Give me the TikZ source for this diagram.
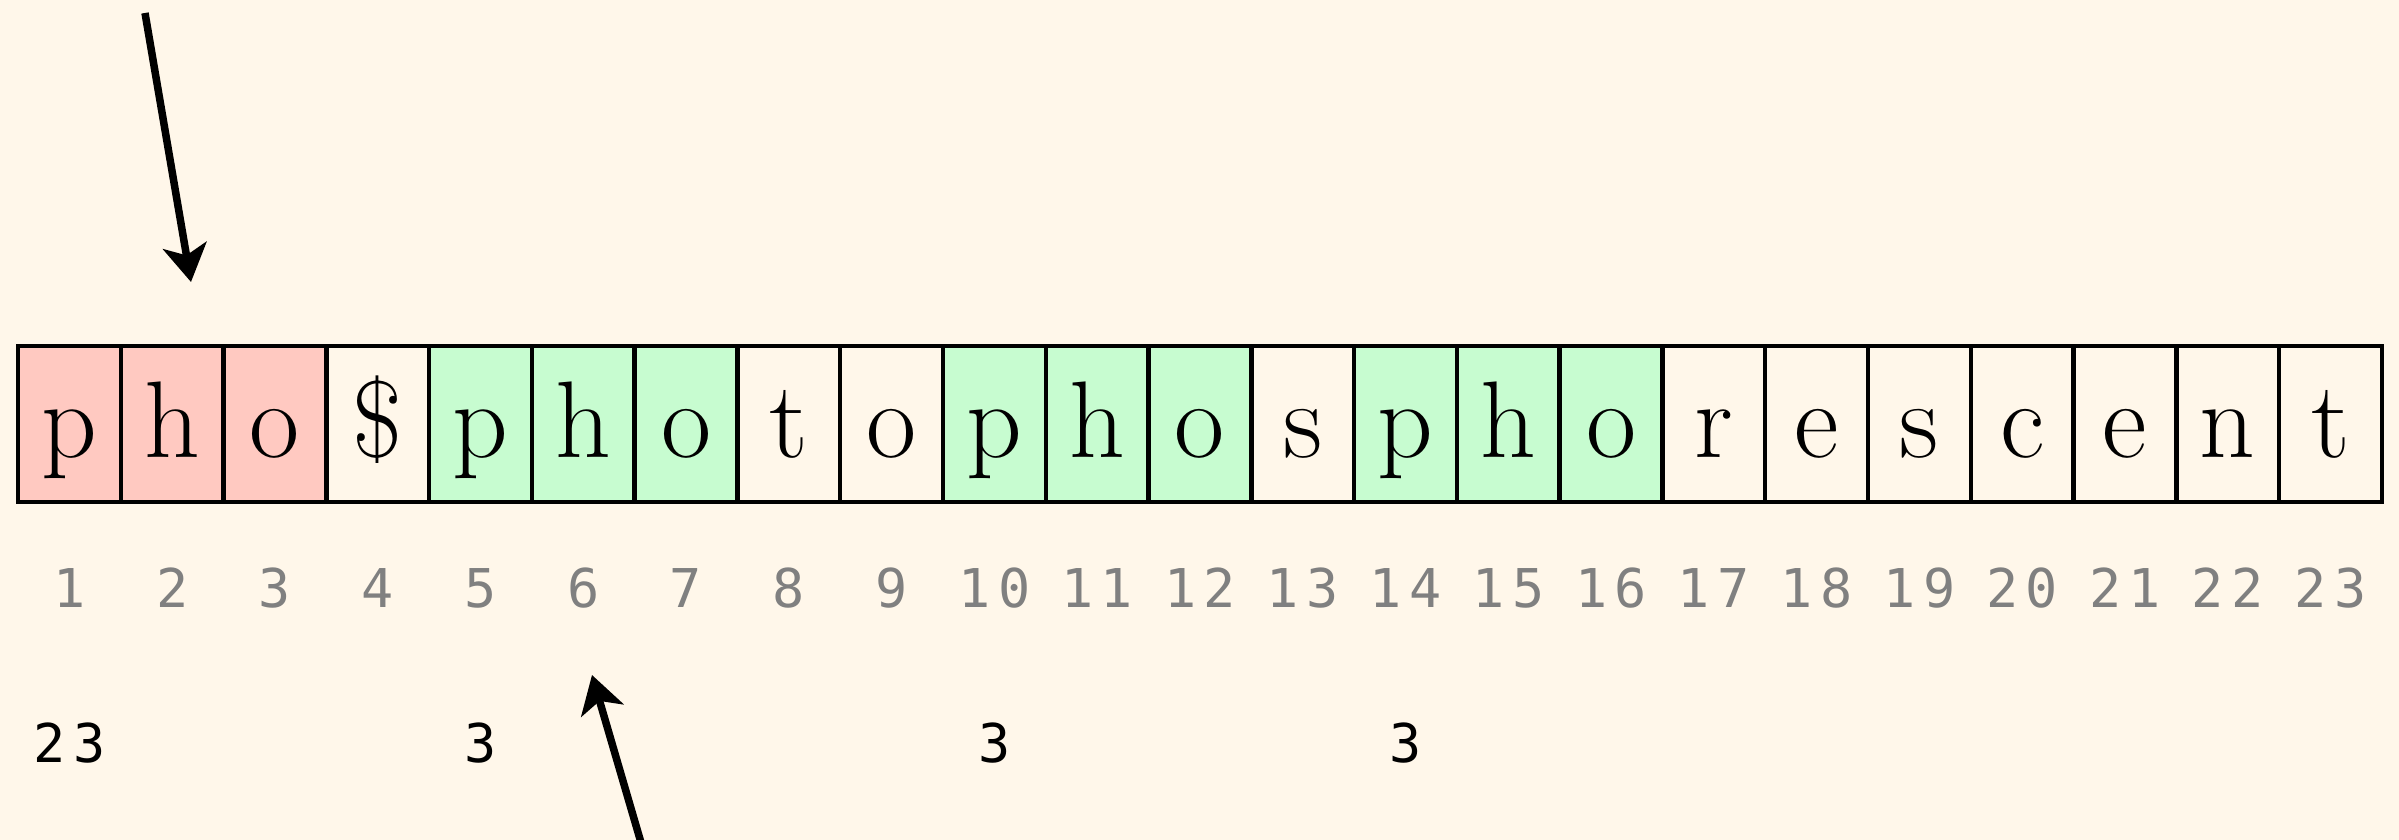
\documentclass[tikz,border=0pt]{standalone}
\usepackage{fontspec}
\newfontfamily\numfont[LetterSpace=14]{DejaVu Sans Mono}
\usetikzlibrary{arrows.meta}
\definecolor{bg}{RGB}{255,247,234}
\definecolor{redcell}{RGB}{255,201,193}
\definecolor{greencell}{RGB}{199,252,208}
\definecolor{idxgray}{RGB}{128,128,128}
\tikzset{
  cell/.style={draw=black, line width=0.045cm, rectangle, minimum width=1.0278cm,
    minimum height=1.56cm, inner sep=0pt, text height=0.8cm, text depth=0.14cm,
    font=\fontsize{31}{31}\selectfont},
  idx/.style={text=idxgray, font=\numfont\fontsize{15.2}{16}\selectfont, anchor=base, inner sep=0pt},
  zval/.style={text=black, font=\numfont\fontsize{15.2}{16}\selectfont, anchor=base, inner sep=0pt},
  ptr/.style={line width=0.075cm, draw=black, -{Stealth[length=0.37cm,width=0.44cm,inset=0.1cm]}}
}
\begin{document}
\begin{tikzpicture}[x=0.01cm,y=-0.01cm]
  \fill[bg] (0,0) rectangle (2399,840);
  \useasboundingbox (0,0) rectangle (2399,840);
  \clip (0,0) rectangle (2399,840);
  \foreach \ch/\col [count=\i] in {p/redcell,h/redcell,o/redcell,\$/bg,p/greencell,h/greencell,o/greencell,t/bg,o/bg,p/greencell,h/greencell,o/greencell,s/bg,p/greencell,h/greencell,o/greencell,r/bg,e/bg,s/bg,c/bg,e/bg,n/bg,t/bg}{
    \node[cell, fill=\col] (c\i) at ({18+(\i-0.5)*102.78},424) {\ch};
    \node[idx] (n\i) at ({18+(\i-0.5)*102.78},607) {\i};
  }
  \node[zval] (z1) at ({18+0.5*102.78},762) {23};
  \node[zval] (z5) at ({18+4.5*102.78},762) {3};
  \node[zval] (z10) at ({18+9.5*102.78},762) {3};
  \node[zval] (z14) at ({18+13.5*102.78},762) {3};
  \coordinate (p1s) at (145,13);
  \coordinate (p1e) at (191,282);
  \coordinate (p2s) at (642,846);
  \coordinate (p2e) at (592,675);
  \draw[ptr] (p1s) -- (p1e);
  \draw[ptr] (p2s) -- (p2e);
\end{tikzpicture}
\end{document}
